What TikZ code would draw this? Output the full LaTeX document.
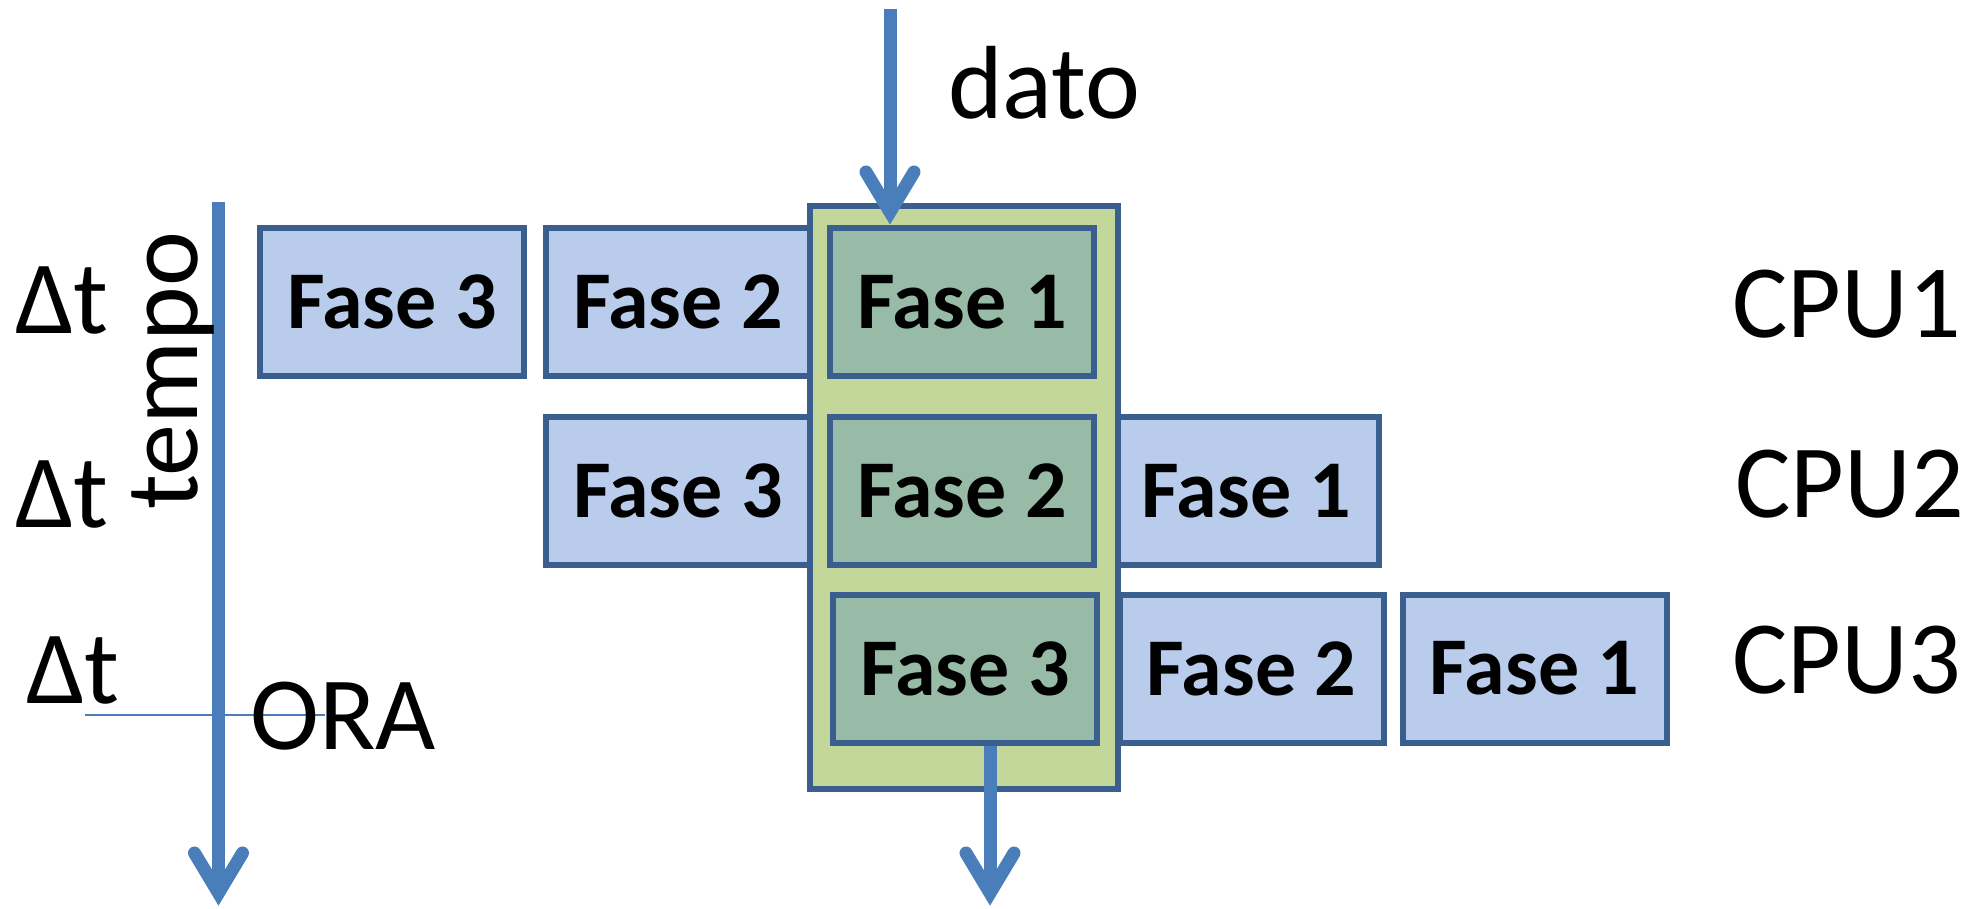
\documentclass[tikz,border=0pt]{standalone}
\usepackage{fontspec}
\setmainfont{Carlito}
\usetikzlibrary{calc}
\definecolor{edgeblue}{HTML}{3A5E8D}
\definecolor{stagefill}{HTML}{BACCEC}
\definecolor{slotfill}{HTML}{C4D79B}
\definecolor{activefill}{HTML}{98BBA8}
\definecolor{flowblue}{HTML}{4A7EBB}
\tikzset{
  stage/.style={draw=edgeblue, line width=6pt, fill=stagefill,
    minimum width=264pt, minimum height=148pt, inner sep=0pt,
    font=\fontsize{82pt}{82pt}\selectfont\bfseries},
  active/.style={stage, fill=activefill},
  slotbox/.style={draw=edgeblue, line width=6pt, fill=slotfill,
    minimum width=308pt, minimum height=583pt, inner sep=0pt},
  txt/.style={inner sep=0pt, anchor=base west,
    font=\fontsize{104pt}{104pt}\selectfont},
  flow/.style={draw=flowblue, line width=13pt},
  vhead/.style={draw=flowblue, line width=13pt, line cap=round, line join=miter},
  nowline/.style={draw=flowblue, line width=2pt},
}
% open V arrowhead whose pointed tip lands on the given coordinate
\newcommand\openhead[1]{\draw[vhead] ($(#1)+(-24,-53)$) -- ($(#1)+(0,-13)$) -- ($(#1)+(24,-53)$);}
\begin{document}
\begin{tikzpicture}[x=1pt, y=-1pt]
\useasboundingbox[fill=white] (0,0) rectangle (1975,908);

% phases waiting or already done
\node[stage] (r1c3) at (392,302) {Fase 3};
\node[stage] (r1c2) at (678,302) {Fase 2};
\node[stage] (r2c3) at (678,491) {Fase 3};
\node[stage] (r2c1) at (1246.5,491) {Fase 1};
\node[stage] (r3c2) at (1251.5,668.5) {Fase 2};
\node[stage] (r3c1) at (1534.5,668.5) {Fase 1};

% current time slot with the active phases
\node[slotbox] (slot) at (964,497.5) {};
\node[active] (r1c1) at (962,302) {Fase 1};
\node[active] (r2c2) at (962,491) {Fase 2};
\node[active] (r3c3) at (965,668.5) {Fase 3};

% time axis
\coordinate (tin) at (218.5,202);
\coordinate (tout) at (218.5,906);
\draw[flow] (tin) -- ($(tout)+(0,-13)$);
\openhead{tout}

% present instant
\coordinate (nowL) at (85,715);
\coordinate (nowR) at (325,715);
\draw[nowline] (nowL) -- (nowR);

% incoming data
\coordinate (din) at (890,9);
\coordinate (dend) at (din |- r1c1.north);
\draw[flow] (din) -- ($(dend)+(0,-13)$);
\openhead{dend}

% outgoing result
\coordinate (rout) at (990,906);
\draw[flow] (r3c3.south -| rout) -- ($(rout)+(0,-13)$);
\openhead{rout}

% labels
\node[txt] (dt1) at (15,333) {Δt};
\node[txt] (dt2) at (15,527) {Δt};
\node[txt] (dt3) at (26,703) {Δt};
\node[txt, rotate=90] (tempo) at (197,510) {tempo};
\node[txt] (ora) at (250,749) {ORA};
\node[txt] (dato) at (948,118) {dato};
\node[txt] (cpu1) at (1732,337) {CPU1};
\node[txt] (cpu2) at (1735,517) {CPU2};
\node[txt] (cpu3) at (1732,693) {CPU3};
\end{tikzpicture}
\end{document}
